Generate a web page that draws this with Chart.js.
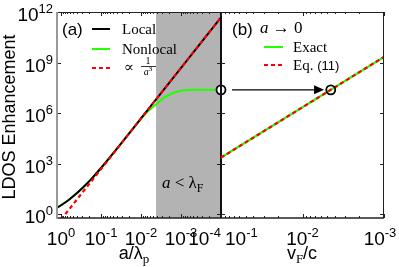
<!DOCTYPE html>
<html>
<head>
<meta charset="utf-8">
<script src="https://cdn.jsdelivr.net/npm/chart.js@4.4.0/dist/chart.umd.min.js"></script>
<style>
  body { margin: 0; background: #fff; }
  #wrap { position: relative; width: 399px; height: 267px; }
  #wrap canvas { position: absolute; left: 0; top: 0; }
</style>
</head>
<body>
<div id="wrap">
  <canvas id="left" width="399" height="267"></canvas>
  <canvas id="right" width="399" height="267"></canvas>
</div>
<script>
// ===== Data =====
// panel (a): LDOS enhancement vs a/λp
const aLocal = [1.26, 1, 0.631, 0.398, 0.251, 0.158, 0.1, 0.0631, 0.0316, 0.01, 1e-4];
const local = [2.43, 3.43, 7.33, 18.0, 50.7, 160, 556, 2065, 1.57e4, 4.84e5, 4.84e11];
const aNonlocal = [1.26, 1, 0.631, 0.398, 0.251, 0.158, 0.1, 0.0631, 0.0316, 0.0141, 0.00794, 0.00422, 0.00251, 0.00141, 7.08e-4, 3.16e-4, 1e-4];
const nonlocal = [2.43, 3.43, 7.33, 18.0, 50.7, 160, 556, 2065, 1.57e4, 1.66e5, 8.51e5, 3.31e6, 8.91e6, 1.74e7, 2.34e7, 2.4e7, 2.4e7];
const aFit = [1, 1e-4];
const fit = [0.48, 4.84e11];
const shadeFrom = 4.2e-3; // a < λF region

// panel (b): a -> 0 limit vs vF/c
const vF = [0.1, 1e-3];
const exact = [2290, 2.17e9];
const eq11 = [2290, 2.17e9];
const markA = [1e-4, 2.4e7];
const markB = [4.5e-3, 2.4e7];
const arrowFrom = 0.0733, arrowTo = 5.44e-3;

// ticks
const aTicks = [1, 0.1, 0.01, 1e-3, 1e-4];
const aTickExp = ['0', '-1', '-2', '-3', '-4'];
const vTicks = [0.1, 0.01, 1e-3];
const vTickExp = ['-1', '-2', '-3'];
const yTicks = [1, 1e3, 1e6, 1e9, 1e12];
const yTickExp = ['0', '3', '6', '9', '12'];

const SANS = '"Liberation Sans", Arial, Helvetica, sans-serif';
const SERIF = '"Liberation Serif", "DejaVu Serif", serif';
const GREEN = '#22ff00';
const RED = '#ff0000';

const pts = (xs, ys) => xs.map((x, i) => ({ x, y: ys[i] }));

// ===== Drawing helpers =====
function richText(ctx, parts, x, y, align) {
  let w = 0;
  parts.forEach(p => { ctx.font = p.font; p.w = ctx.measureText(p.t).width; w += p.w; });
  let cx = align === 'right' ? x - w : align === 'center' ? x - w / 2 : x;
  ctx.textAlign = 'left';
  ctx.textBaseline = 'alphabetic';
  ctx.fillStyle = '#000';
  parts.forEach(p => { ctx.font = p.font; ctx.fillText(p.t, cx, y + (p.dy || 0)); cx += p.w; });
}

function pow10(ctx, exp, x, y, align) {
  richText(ctx, [
    { t: '10', font: '19px ' + SANS },
    { t: exp, font: '13px ' + SANS, dy: -8 }
  ], x, y, align);
}

function seg(ctx, x1, y1, x2, y2) {
  ctx.beginPath(); ctx.moveTo(x1, y1); ctx.lineTo(x2, y2); ctx.stroke();
}

function drawTicks(chart, xMajors) {
  const { ctx, chartArea: c, scales: { x, y } } = chart;
  ctx.save();
  ctx.strokeStyle = '#222';
  ctx.lineWidth = 1;
  xMajors.forEach(v => {
    const px = Math.round(x.getPixelForValue(v)) + 0.5;
    seg(ctx, px, c.bottom, px, c.bottom - 4);
    seg(ctx, px, c.top, px, c.top + 4);
    for (let k = 2; k <= 9; k++) {
      const m = v * k;
      if (m > x.max || m < x.min) continue;
      const pm = Math.round(x.getPixelForValue(m)) + 0.5;
      seg(ctx, pm, c.bottom, pm, c.bottom - 2);
      seg(ctx, pm, c.top, pm, c.top + 2);
    }
  });
  yTicks.forEach(v => {
    const py = Math.round(y.getPixelForValue(v)) + 0.5;
    seg(ctx, c.left, py, c.left + 4, py);
    seg(ctx, c.right, py, c.right - 4, py);
  });
  ctx.restore();
}

function legendLine(ctx, x1, x2, yy, color, dash) {
  ctx.save();
  ctx.strokeStyle = color;
  ctx.lineWidth = 2;
  ctx.setLineDash(dash || []);
  seg(ctx, x1, yy, x2, yy);
  ctx.restore();
}

// ===== Panel (a) =====
const leftDeco = {
  id: 'leftDeco',
  beforeDatasetsDraw(chart) {
    const { ctx, chartArea: c, scales: { x } } = chart;
    const xs = x.getPixelForValue(shadeFrom);
    ctx.save();
    ctx.fillStyle = '#b3b3b3';
    ctx.fillRect(xs, c.top, c.right - xs, c.bottom - c.top);
    ctx.restore();
  },
  afterDraw(chart) {
    const { ctx, chartArea: c, scales: { x, y } } = chart;
    drawTicks(chart, aTicks);

    // frame
    ctx.save();
    ctx.strokeStyle = '#222'; ctx.lineWidth = 1;
    seg(ctx, c.left, c.top + 0.5, c.right, c.top + 0.5);
    ctx.lineWidth = 1.5;
    seg(ctx, c.left, c.bottom, c.right, c.bottom);
    ctx.strokeStyle = '#111'; ctx.lineWidth = 2;
    seg(ctx, c.right, c.top, c.right, c.bottom);
    ctx.strokeStyle = '#999'; ctx.lineWidth = 2;
    seg(ctx, c.left, c.top, c.left, c.bottom + 1);
    ctx.restore();

    // tick labels
    aTicks.forEach((v, i) => {
      const px = x.getPixelForValue(v);
      pow10(ctx, aTickExp[i], px, 245, i === aTicks.length - 1 ? 'right' : 'center');
    });
    yTicks.forEach((v, i) => {
      pow10(ctx, yTickExp[i], 53, y.getPixelForValue(v) + 9, 'right');
    });

    // axis titles
    richText(ctx, [
      { t: 'a/λ', font: '18px ' + SANS },
      { t: 'p', font: '13px ' + SERIF, dy: 4 }
    ], 134, 259, 'center');
    ctx.save();
    ctx.translate(15, 117);
    ctx.rotate(-Math.PI / 2);
    ctx.font = '18px ' + SANS;
    ctx.textAlign = 'center';
    ctx.fillStyle = '#000';
    ctx.fillText('LDOS Enhancement', 0, 0);
    ctx.restore();

    // legend
    richText(ctx, [{ t: '(a)', font: '17px ' + SANS }], 62, 35);
    legendLine(ctx, 92, 110, 29, '#000');
    legendLine(ctx, 92, 110, 49, GREEN);
    legendLine(ctx, 92, 113, 68, RED, [4, 3]);
    richText(ctx, [{ t: 'Local', font: '15px ' + SERIF }], 122, 34);
    richText(ctx, [{ t: 'Nonlocal', font: '15px ' + SERIF }], 122, 54);
    richText(ctx, [{ t: '∝', font: '15px ' + SERIF }], 124, 72);
    richText(ctx, [{ t: '1', font: '10px ' + SERIF }], 148, 64, 'center');
    ctx.save();
    ctx.strokeStyle = '#000'; ctx.lineWidth = 0.8;
    seg(ctx, 141, 66.5, 156, 66.5);
    ctx.restore();
    richText(ctx, [
      { t: 'a', font: 'italic 10px ' + SERIF },
      { t: '3', font: '7px ' + SERIF, dy: -4 }
    ], 148, 75, 'center');

    // region label
    richText(ctx, [
      { t: 'a', font: 'italic 17px ' + SERIF },
      { t: ' < ', font: '17px ' + SERIF },
      { t: 'λ', font: '17px ' + SERIF },
      { t: 'F', font: '12px ' + SERIF, dy: 4 }
    ], 162, 188);
  }
};

new Chart(document.getElementById('left'), {
  type: 'line',
  data: {
    datasets: [
      { data: [{ x: markA[0], y: markA[1] }], showLine: false, pointRadius: 4.5, pointBorderWidth: 1.8,
        pointBorderColor: '#000', pointBackgroundColor: '#fff', clip: false },
      { label: '∝ 1/a³', data: pts(aFit, fit), borderColor: RED, borderDash: [4, 3], borderWidth: 2.2, pointRadius: 0 },
      { label: 'Local', data: pts(aLocal, local), borderColor: '#000', borderWidth: 2, pointRadius: 0,
        cubicInterpolationMode: 'monotone' },
      { label: 'Nonlocal', data: pts(aNonlocal, nonlocal), borderColor: GREEN, borderWidth: 2, pointRadius: 0,
        cubicInterpolationMode: 'monotone' }
    ]
  },
  options: {
    responsive: false,
    animation: false,
    devicePixelRatio: 1,
    events: [],
    layout: { padding: { left: 57, right: 178, top: 12, bottom: 49 } },
    plugins: { legend: { display: false }, tooltip: { enabled: false } },
    scales: {
      x: { type: 'logarithmic', reverse: true, min: 1e-4, max: 1.26, display: false },
      y: { type: 'logarithmic', min: 0.631, max: 1e12, display: false }
    }
  },
  plugins: [leftDeco]
});

// ===== Panel (b) =====
const rightDeco = {
  id: 'rightDeco',
  afterDatasetsDraw(chart) {
    const { ctx, scales: { x, y } } = chart;
    const x1 = x.getPixelForValue(arrowFrom);
    const x2 = x.getPixelForValue(arrowTo);
    const yy = y.getPixelForValue(markB[1]);
    ctx.save();
    ctx.strokeStyle = '#000'; ctx.fillStyle = '#000'; ctx.lineWidth = 1.3;
    seg(ctx, x1, yy, x2 - 8, yy);
    ctx.beginPath();
    ctx.moveTo(x2, yy); ctx.lineTo(x2 - 10, yy - 4.5); ctx.lineTo(x2 - 10, yy + 4.5); ctx.closePath();
    ctx.fill();
    ctx.restore();
  },
  afterDraw(chart) {
    const { ctx, chartArea: c, scales: { x } } = chart;
    drawTicks(chart, vTicks);

    ctx.save();
    ctx.strokeStyle = '#222'; ctx.lineWidth = 1;
    seg(ctx, c.left, c.top + 0.5, c.right, c.top + 0.5);
    seg(ctx, c.right - 0.5, c.top, c.right - 0.5, c.bottom);
    ctx.lineWidth = 1.5;
    seg(ctx, c.left, c.bottom, c.right, c.bottom);
    ctx.restore();

    vTicks.forEach((v, i) => {
      const px = x.getPixelForValue(v);
      if (i === 0) pow10(ctx, vTickExp[i], px + 4, 245, 'left');
      else if (i === vTicks.length - 1) pow10(ctx, vTickExp[i], px - 4, 245, 'center');
      else pow10(ctx, vTickExp[i], px, 245, 'center');
    });

    richText(ctx, [
      { t: 'v', font: '18px ' + SANS },
      { t: 'F', font: '13px ' + SERIF, dy: 4 },
      { t: '/c', font: '18px ' + SANS }
    ], 302, 259, 'center');

    // legend
    richText(ctx, [{ t: '(b)', font: '17px ' + SANS }], 232, 35);
    richText(ctx, [
      { t: 'a', font: 'italic 17px ' + SERIF },
      { t: ' → ', font: '17px ' + SERIF },
      { t: '0', font: '17px ' + SERIF }
    ], 260, 33);
    legendLine(ctx, 264, 283, 47, GREEN);
    legendLine(ctx, 264, 285, 65, RED, [4, 3]);
    richText(ctx, [{ t: 'Exact', font: '15px ' + SERIF }], 293, 52);
    richText(ctx, [
      { t: 'Eq. ', font: '15px ' + SERIF },
      { t: '(11)', font: '13px ' + SANS }
    ], 293, 70);
  }
};

new Chart(document.getElementById('right'), {
  type: 'line',
  data: {
    datasets: [
      { data: [{ x: markB[0], y: markB[1] }], showLine: false, pointRadius: 4.5, pointBorderWidth: 1.8,
        pointBorderColor: '#000', pointBackgroundColor: 'rgba(0,0,0,0)', clip: false },
      { label: 'Eq. (11)', data: pts(vF, eq11), borderColor: RED, borderDash: [4, 3], borderWidth: 2.2, pointRadius: 0 },
      { label: 'Exact', data: pts(vF, exact), borderColor: GREEN, borderWidth: 2.2, pointRadius: 0 }
    ]
  },
  options: {
    responsive: false,
    animation: false,
    devicePixelRatio: 1,
    events: [],
    layout: { padding: { left: 221, right: 15, top: 12, bottom: 49 } },
    plugins: { legend: { display: false }, tooltip: { enabled: false } },
    scales: {
      x: { type: 'logarithmic', reverse: true, min: 1e-3, max: 0.1, display: false },
      y: { type: 'logarithmic', min: 0.631, max: 1e12, display: false }
    }
  },
  plugins: [rightDeco]
});
</script>
</body>
</html>
